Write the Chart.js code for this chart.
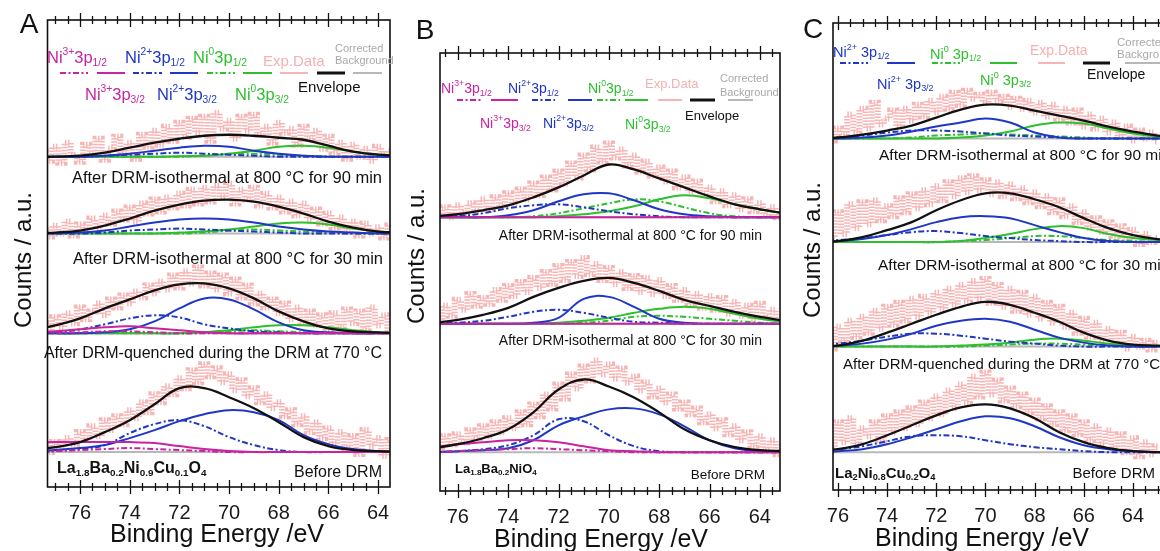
<!DOCTYPE html>
<html lang="en">
<head>
<meta charset="UTF-8" />
<title>Ni 3p XPS spectra</title>
<script src="https://cdn.jsdelivr.net/npm/chart.js"></script>
<style>
  body { margin: 0; background: #fff; width: 1160px; height: 551px; overflow: hidden; position: relative;
         font-family: 'Liberation Sans', Arial, sans-serif; color: #111; }
  canvas { position: absolute; top: 0; }
  .t { position: absolute; white-space: nowrap; line-height: 1; transform: translateY(-50%); }
  .t sup { font-size: 0.62em; vertical-align: 0.8em; line-height: 0; }
  .t sub { font-size: 0.62em; vertical-align: -0.3em; line-height: 0; }
  .r { transform: translate(-100%, -50%); }
  .c { transform: translate(-50%, -50%); }
  .v { transform: translate(-50%, -50%) rotate(-90deg); }
  .b { font-weight: bold; }
  .mg { color: #c8249f; } .bl { color: #1f37c4; } .gr { color: #2dbf2d; } .pk { color: #f6b0b0; } .gy { color: #a9a9a9; }
</style>
</head>
<body>
  <canvas id="panelA" width="400" height="551" style="left:0px"></canvas>
  <canvas id="panelB" width="400" height="551" style="left:400px"></canvas>
  <canvas id="panelC" width="400" height="551" style="left:790px"></canvas>

  <!-- panel letters / axis titles -->
  <div class="t c" style="left:29px;top:24px;font-size:28px">A</div>
  <div class="t c" style="left:425px;top:30px;font-size:28px">B</div>
  <div class="t c" style="left:813px;top:29px;font-size:28px">C</div>
  <div class="t v" style="left:23px;top:260px;font-size:24px">Counts / a.u.</div>
  <div class="t v" style="left:416px;top:256px;font-size:24px">Counts / a.u.</div>
  <div class="t v" style="left:812px;top:250px;font-size:24px">Counts / a.u.</div>
  <div class="t c" style="left:217px;top:533px;font-size:25px">Binding Energy /eV</div>
  <div class="t c" style="left:601px;top:538px;font-size:25px">Binding Energy /eV</div>
  <div class="t c" style="left:982px;top:537px;font-size:25px">Binding Energy /eV</div>

  <!-- legend A -->
  <div class="t mg" style="left:47px;top:57px;font-size:16.5px">Ni<sup>3+</sup>3p<sub>1/2</sub></div>
  <div class="t bl" style="left:125px;top:57px;font-size:16.5px">Ni<sup>2+</sup>3p<sub>1/2</sub></div>
  <div class="t gr" style="left:193px;top:57px;font-size:16.5px">Ni<sup>0</sup>3p<sub>1/2</sub></div>
  <div class="t pk" style="left:263px;top:60px;font-size:15px">Exp.Data</div>
  <div class="t gy" style="left:335px;top:48px;font-size:11px">Corrected</div>
  <div class="t gy" style="left:335px;top:60px;font-size:11px">Background</div>
  <div class="t mg" style="left:85px;top:94px;font-size:16.5px">Ni<sup>3+</sup>3p<sub>3/2</sub></div>
  <div class="t bl" style="left:157px;top:94px;font-size:16.5px">Ni<sup>2+</sup>3p<sub>3/2</sub></div>
  <div class="t gr" style="left:235px;top:94px;font-size:16.5px">Ni<sup>0</sup>3p<sub>3/2</sub></div>
  <div class="t" style="left:298px;top:86px;font-size:15px">Envelope</div>

  <!-- legend B -->
  <div class="t mg" style="left:441px;top:88px;font-size:14px">Ni<sup>3+</sup>3p<sub>1/2</sub></div>
  <div class="t bl" style="left:508px;top:88px;font-size:14px">Ni<sup>2+</sup>3p<sub>1/2</sub></div>
  <div class="t gr" style="left:588px;top:88px;font-size:14px">Ni<sup>0</sup>3p<sub>1/2</sub></div>
  <div class="t pk" style="left:645px;top:83px;font-size:13px">Exp.Data</div>
  <div class="t gy" style="left:720px;top:78px;font-size:11px">Corrected</div>
  <div class="t gy" style="left:720px;top:92px;font-size:11px">Background</div>
  <div class="t mg" style="left:480px;top:123px;font-size:14px">Ni<sup>3+</sup>3p<sub>3/2</sub></div>
  <div class="t bl" style="left:543px;top:123px;font-size:14px">Ni<sup>2+</sup>3p<sub>3/2</sub></div>
  <div class="t gr" style="left:625px;top:124px;font-size:14px">Ni<sup>0</sup>3p<sub>3/2</sub></div>
  <div class="t" style="left:685px;top:115px;font-size:13px">Envelope</div>

  <!-- legend C -->
  <div class="t bl" style="left:833px;top:52px;font-size:14.5px">Ni<sup>2+</sup> 3p<sub>1/2</sub></div>
  <div class="t gr" style="left:930px;top:54px;font-size:14.5px">Ni<sup>0</sup> 3p<sub>1/2</sub></div>
  <div class="t pk" style="left:1030px;top:50px;font-size:14px">Exp.Data</div>
  <div class="t gy" style="left:1117px;top:43px;font-size:11.5px">Corrected</div>
  <div class="t gy" style="left:1117px;top:55px;font-size:11.5px">Background</div>
  <div class="t bl" style="left:877px;top:84px;font-size:14.5px">Ni<sup>2+</sup> 3p<sub>3/2</sub></div>
  <div class="t gr" style="left:980px;top:80px;font-size:14.5px">Ni<sup>0</sup> 3p<sub>3/2</sub></div>
  <div class="t" style="left:1087px;top:74px;font-size:14px">Envelope</div>

  <!-- spectrum labels A -->
  <div class="t r" style="left:382px;top:177px;font-size:16.5px">After DRM-isothermal at 800 °C for 90 min</div>
  <div class="t r" style="left:383px;top:258px;font-size:16.5px">After DRM-isothermal at 800 °C for 30 min</div>
  <div class="t r" style="left:382px;top:353px;font-size:16px">After DRM-quenched during the DRM at 770 °C</div>
  <div class="t b" style="left:57px;top:468px;font-size:16px">La<sub>1.8</sub>Ba<sub>0.2</sub>Ni<sub>0.9</sub>Cu<sub>0.1</sub>O<sub>4</sub></div>
  <div class="t r" style="left:382px;top:472px;font-size:16px">Before DRM</div>

  <!-- spectrum labels B -->
  <div class="t r" style="left:762px;top:235px;font-size:14px">After DRM-isothermal at 800 °C for 90 min</div>
  <div class="t r" style="left:762px;top:340px;font-size:14px">After DRM-isothermal at 800 °C for 30 min</div>
  <div class="t b" style="left:455px;top:468px;font-size:13px">La<sub>1.8</sub>Ba<sub>0.2</sub>NiO<sub>4</sub></div>
  <div class="t r" style="left:765px;top:475px;font-size:13.5px">Before DRM</div>

  <!-- spectrum labels C -->
  <div class="t" style="left:879px;top:155px;font-size:15.5px">After DRM-isothermal at 800 °C for 90 min</div>
  <div class="t" style="left:878px;top:265px;font-size:15.5px">After DRM-isothermal at 800 °C for 30 min</div>
  <div class="t" style="left:843px;top:363px;font-size:15px">After DRM-quenched during the DRM at 770 °C</div>
  <div class="t b" style="left:835px;top:472px;font-size:15px">La<sub>2</sub>Ni<sub>0.8</sub>Cu<sub>0.2</sub>O<sub>4</sub></div>
  <div class="t r" style="left:1155px;top:472px;font-size:15px">Before DRM</div>

  <script>
    // binding energies (eV)
    const CURVE_E = [78, 77, 76, 75, 74, 73, 72, 71, 70, 69, 68, 67, 66, 65, 64, 63, 62];
    const EXP_E = [77.5, 77.25, 77, 76.75, 76.5, 76.25, 76, 75.75, 75.5, 75.25, 75, 74.75, 74.5, 74.25, 74,
      73.75, 73.5, 73.25, 73, 72.75, 72.5, 72.25, 72, 71.75, 71.5, 71.25, 71, 70.75, 70.5, 70.25, 70,
      69.75, 69.5, 69.25, 69, 68.75, 68.5, 68.25, 68, 67.75, 67.5, 67.25, 67, 66.75, 66.5, 66.25, 66,
      65.75, 65.5, 65.25, 65, 64.75, 64.5, 64.25, 64, 63.75, 63.5, 63.25, 63];
    const TICK_LABELS = [76, 74, 72, 70, 68, 66, 64];
    const FLAT = [0, 0, 0, 0, 0, 0, 0, 0, 0, 0, 0, 0, 0, 0, 0, 0, 0];

    // vertical offsets of each spectrum (a.u., top spectrum first)
    const OFFSET_A = [331, 254, 154, 35];
    const OFFSET_B = [275, 168, 39];
    const OFFSET_C = [353, 249, 144, 38];

    // ---- panel A ----
    const A1_ENV = [0, 0, 1, 4, 9, 14, 18, 21, 22, 21, 19, 17, 11, 5, 2, 1, 0];
    const A1_BLUE = [0, 0, 0, 1, 3, 6, 9, 11, 10, 6, 3, 1, 0, 0, 0, 0, 0];
    const A1_BLUE_DD = [0, 0, 0, 1, 2, 3, 4, 3, 2, 1, 0, 0, 0, 0, 0, 0, 0];
    const A1_GREEN = [0, 0, 0, 0, 0, 0, 0.5, 1, 3, 6, 10, 11, 9, 5, 2, 1, 0];
    const A1_GREEN_DD = [0, 0, 0, 0, 0, 0, 0, 1, 3, 3, 2, 1, 0, 0, 0, 0, 0];
    const A1_EXP = [5, -4, 10, -6, 14, 2, -5, 12, 3, 18, -3, 8, 20, 4, 14, -2, 22, 10, 26, 12, 30, 16, 34, 20, 38, 24, 40, 16, 44, 28,
      36, 18, 40, 26, 42, 22, 30, 14, 34, 24, 28, 12, 30, 18, 26, 8, 20, 4, 14, -2, 12, 0, 8, -4, 10, 2, 6, -3, 8];

    const A2_ENV = [0, 1, 3, 8, 15, 23, 29, 33, 34, 32, 27, 20, 12, 6, 2, 1, 0];
    const A2_BLUE = [0, 0, 1, 3, 7, 11, 14, 15, 14, 11, 7, 4, 2, 1, 0, 0, 0];
    const A2_BLUE_DD = [0, 0, 0, 1, 3, 4, 5, 4, 3, 2, 1, 0, 0, 0, 0, 0, 0];
    const A2_GREEN = [0, 0, 0, 0, 0, 0, 1, 2, 4, 7, 10, 11, 9, 5, 2, 1, 0];
    const A2_GREEN_DD = [0, 0, 0, 0, 0, 0, 0, 1, 3, 4, 3, 2, 1, 0, 0, 0, 0];
    const A2_EXP = [3, -3, 8, 0, 12, -2, 9, 4, 15, 6, 18, 10, 22, 14, 26, 12, 30, 20, 34, 22, 36, 26, 40, 28, 44, 30, 46, 32, 48, 36,
      50, 30, 44, 34, 46, 28, 40, 26, 36, 22, 32, 18, 30, 14, 24, 10, 20, 6, 16, 2, 12, -2, 10, 0, 6, -4, 8, 0, 4];

    const A3_ENV = [3, 8, 15, 25, 34, 43, 49, 50, 45, 35, 22, 12, 5, 2, 1, 0, 0];
    const A3_BLUE = [0, 0, 0, 1, 4, 12, 25, 35, 34, 24, 11, 3, 1, 0, 0, 0, 0];
    const A3_BLUE_DD = [0, 1, 4, 9, 15, 18, 16, 9, 5, 2, 1, 0, 0, 0, 0, 0, 0];
    const A3_MAG = [1, 2, 4, 6, 7, 5, 3, 1, 0, 0, 0, 0, 0, 0, 0, 0, 0];
    const A3_MAG_DD = [0, 0, 1, 2, 2, 1, 0, 0, 0, 0, 0, 0, 0, 0, 0, 0, 0];
    const A3_GREEN = [0, 0, 0, 0, 0, 0, 0, 1, 3, 6, 8, 8, 6, 3, 1, 0, 0];
    const A3_GREEN_DD = [0, 0, 0, 0, 0, 0, 0, 1, 2, 3, 2, 1, 0, 0, 0, 0, 0];
    const A3_EXP = [10, 2, 16, 6, 20, 10, 26, 14, 22, 30, 18, 34, 26, 38, 30, 42, 36, 48, 40, 52, 44, 58, 46, 62, 50, 66, 48, 60, 44, 58,
      40, 54, 36, 48, 30, 40, 26, 34, 20, 30, 14, 26, 10, 22, 8, 18, 4, 20, 6, 24, 10, 22, 4, 26, 8, 18, 2, 14, 6];

    const A4_ENV = [2, 5, 10, 20, 32, 48, 64, 64, 55, 44, 30, 15, 6, 2, 1, 0, 0];
    const A4_BLUE = [1, 2, 4, 7, 14, 22, 31, 38, 42, 40, 32, 17, 8, 3, 1, 0, 0];
    const A4_BLUE_DD = [0, 1, 3, 7, 19, 28, 32, 26, 15, 7, 2, 0, 0, 0, 0, 0, 0];
    const A4_MAG = [9, 10, 10, 10, 10, 9, 6, 3, 1, 0, 0, 0, 0, 0, 0, 0, 0];
    const A4_MAG_DD = [0, 1, 2, 3, 4, 3, 2, 1, 0, 0, 0, 0, 0, 0, 0, 0, 0];
    const A4_EXP = [6, 0, 10, 4, 14, 8, 20, 12, 26, 16, 32, 22, 36, 28, 42, 34, 50, 40, 58, 50, 66, 58, 74, 64, 82, 70, 88, 76, 84, 70,
      78, 62, 72, 56, 64, 50, 58, 44, 50, 36, 42, 28, 36, 20, 30, 14, 24, 8, 20, 4, 16, -2, 22, 6, 14, -4, 12, 2, 8];

    // ---- panel B ----
    const B1_ENV = [0, 1, 3, 7, 12, 20, 30, 42, 53, 48, 39, 30, 21, 13, 8, 4, 2];
    const B1_BLUE = [0, 0, 0, 0, 2, 7, 16, 23, 24, 17, 8, 3, 1, 0, 0, 0, 0];
    const B1_BLUE_DD = [0, 0, 1, 4, 9, 12, 13, 10, 6, 3, 1, 0, 0, 0, 0, 0, 0];
    const B1_GREEN = [0, 0, 0, 0, 0, 0, 1, 3, 6, 11, 18, 22, 19, 13, 8, 4, 2];
    const B1_GREEN_DD = [0, 0, 0, 0, 0, 1, 4, 9, 14, 18, 16, 10, 4, 1, 0, 0, 0];
    const B1_EXP = [4, -2, 8, 2, 10, 0, 12, 4, 14, 6, 18, 8, 20, 12, 24, 14, 28, 18, 34, 22, 40, 28, 46, 34, 54, 40, 62, 48, 70, 56,
      74, 60, 68, 52, 62, 46, 56, 42, 50, 36, 46, 30, 40, 26, 36, 22, 30, 16, 26, 12, 22, 8, 18, 6, 14, 2, 10, 0, 6];

    const B2_ENV = [0, 1, 4, 9, 16, 27, 36, 43, 46, 41, 33, 24, 18, 12, 7, 3, 1];
    const B2_BLUE = [0, 0, 0, 0, 0, 1, 6, 25, 27, 17, 5, 1, 0, 0, 0, 0, 0];
    const B2_BLUE_DD = [0, 0, 1, 3, 7, 12, 14, 11, 6, 2, 1, 0, 0, 0, 0, 0, 0];
    const B2_GREEN = [0, 0, 0, 0, 0, 0, 1, 3, 6, 11, 15, 17, 15, 10, 5, 2, 1];
    const B2_GREEN_DD = [0, 0, 0, 0, 0, 0, 0, 1, 3, 7, 8, 7, 5, 3, 1, 0, 0];
    const B2_EXP = [6, 0, 12, 4, 18, 8, 24, 14, 30, 18, 26, 20, 34, 24, 38, 28, 42, 32, 46, 36, 52, 40, 58, 44, 62, 48, 66, 50, 60, 44,
      56, 40, 52, 36, 48, 32, 46, 30, 44, 28, 38, 24, 34, 20, 30, 16, 28, 14, 26, 10, 22, 8, 18, 4, 20, 6, 14, 2, 8];

    const B3_ENV = [2, 4, 8, 14, 23, 40, 63, 73, 66, 55, 40, 23, 12, 5, 2, 1, 0];
    const B3_BLUE = [0, 0, 1, 2, 4, 12, 27, 36, 43, 44, 38, 26, 12, 4, 1, 0, 0];
    const B3_BLUE_DD = [0, 0, 1, 3, 7, 17, 33, 31, 17, 6, 1, 0, 0, 0, 0, 0, 0];
    const B3_MAG = [3, 5, 8, 10, 12, 12, 10, 6, 2, 1, 0, 0, 0, 0, 0, 0, 0];
    const B3_MAG_DD = [0, 0, 1, 2, 3, 4, 3, 2, 1, 0, 0, 0, 0, 0, 0, 0, 0];
    const B3_EXP = [8, 2, 12, 4, 16, 8, 18, 10, 22, 14, 26, 16, 30, 20, 34, 24, 40, 28, 48, 36, 58, 44, 68, 54, 78, 64, 86, 72, 92, 78,
      88, 74, 84, 70, 76, 62, 70, 56, 64, 50, 58, 44, 50, 38, 44, 30, 38, 24, 32, 18, 26, 12, 20, 6, 16, 2, 12, -2, 6];

    // ---- panel C ----
    const C1_ENV = [0, 0, 1, 4, 8, 13, 21, 29, 34, 33, 28, 23, 18, 12, 7, 3, 1];
    const C1_BLUE = [0, 0, 0, 1, 3, 7, 12, 16, 20, 16, 6, 1, 0, 0, 0, 0, 0];
    const C1_BLUE_DD = [0, 0, 1, 3, 6, 8, 8, 7, 5, 3, 2, 1, 0, 0, 0, 0, 0];
    const C1_GREEN = [0, 0, 0, 0, 0, 0, 0, 1, 3, 7, 13, 16, 15, 10, 5, 2, 1];
    const C1_GREEN_DD = [0, 0, 0, 0, 0, 1, 3, 4, 5, 4, 3, 2, 1, 0, 0, 0, 0];
    const C1_EXP = [4, 0, 6, 2, 8, -2, 10, 4, 24, 6, 30, 10, 36, 14, 20, 28, 12, 30, 18, 34, 22, 38, 26, 42, 30, 46, 34, 48, 40, 44,
      36, 46, 38, 42, 32, 40, 30, 38, 26, 36, 22, 34, 20, 30, 16, 28, 12, 24, 10, 20, 6, 16, 2, 12, -2, 8, 0, 6, -3];

    const C2_ENV = [0, 0, 1, 5, 12, 20, 32, 42, 49, 49, 43, 35, 24, 14, 7, 3, 1];
    const C2_BLUE = [0, 0, 1, 3, 7, 13, 20, 25, 26, 24, 17, 10, 4, 1, 0, 0, 0];
    const C2_BLUE_DD = [0, 1, 2, 4, 7, 10, 11, 9, 6, 4, 2, 1, 0, 0, 0, 0, 0];
    const C2_GREEN = [0, 0, 0, 0, 0, 0, 0, 1, 4, 8, 13, 16, 14, 8, 4, 2, 1];
    const C2_GREEN_DD = [0, 0, 0, 0, 0, 0, 0, 1, 2, 4, 6, 6, 4, 2, 1, 0, 0];
    const C2_EXP = [6, 0, 10, 2, 14, 4, 30, 8, 38, 14, 40, 18, 42, 22, 36, 26, 44, 30, 48, 34, 52, 38, 56, 42, 60, 46, 64, 50, 66, 52,
      62, 48, 60, 46, 58, 44, 54, 40, 50, 36, 46, 30, 42, 26, 36, 20, 30, 14, 24, 10, 20, 6, 16, 2, 12, -2, 8, 0, 4];

    const C3_ENV = [0, 0, 1, 6, 14, 23, 32, 40, 45, 42, 34, 25, 14, 6, 2, 1, 0];
    const C3_BLUE = [0, 0, 1, 3, 7, 13, 21, 26, 28, 25, 17, 9, 4, 1, 0, 0, 0];
    const C3_BLUE_DD = [0, 1, 3, 6, 10, 13, 13, 11, 8, 5, 3, 1, 0, 0, 0, 0, 0];
    const C3_GREEN = [0, 0, 0, 0, 0, 0, 0, 1, 2, 4, 7, 8, 6, 3, 1, 0, 0];
    const C3_GREEN_DD = [0, 0, 0, 0, 0, 0, 0, 0, 1, 2, 3, 3, 2, 1, 0, 0, 0];
    const C3_EXP = [4, 0, 8, 2, 12, -2, 20, 6, 26, 10, 30, 14, 36, 18, 40, 22, 44, 26, 48, 30, 50, 34, 54, 38, 58, 42, 62, 46, 66, 48,
      68, 44, 62, 40, 58, 36, 54, 32, 50, 28, 44, 24, 40, 20, 34, 14, 28, 10, 24, 6, 18, 2, 14, -2, 10, 0, 6, -3, 4];

    const C4_ENV = [0, 1, 3, 8, 17, 27, 37, 45, 48, 44, 34, 20, 10, 4, 1, 0, 0];
    const C4_BLUE = [0, 0, 1, 3, 8, 15, 23, 31, 36, 34, 26, 15, 7, 3, 1, 0, 0];
    const C4_BLUE_DD = [1, 2, 3, 6, 11, 16, 17, 16, 12, 8, 5, 3, 1, 0, 0, 0, 0];
    const C4_EXP = [4, 0, 8, 2, 14, 4, 30, 10, 34, 8, 24, 16, 30, 12, 36, 20, 40, 24, 44, 28, 50, 34, 56, 38, 62, 44, 68, 50, 76, 56,
      80, 58, 72, 52, 64, 46, 58, 40, 52, 34, 46, 28, 40, 22, 36, 18, 30, 12, 26, 8, 22, 4, 18, 0, 14, -4, 10, -2, 6];

    // styles
    const FONT = "'Liberation Sans', Arial, sans-serif";
    const MAG = '#c8249f', BLUE = '#1f37c4', GREEN = '#2dbf2d', BLACK = '#111111', GRAY = '#b8b8b8';
    const PINK = 'rgba(246, 160, 160, 0.78)';
    const DD = [6, 2.5, 2, 2.5];

    // frame, crossing tick marks and legend line samples
    const framePlugin = {
      id: 'frame',
      afterDraw(chart, args, opts) {
        const { ctx, chartArea: a, scales: { x } } = chart;
        ctx.save();
        ctx.strokeStyle = '#111';
        ctx.lineWidth = 1.6;
        ctx.strokeRect(a.left, a.top, a.right - a.left, a.bottom - a.top);
        ctx.lineWidth = 1.3;
        for (let v = Math.ceil(Math.min(x.min, x.max) * 2) / 2; v <= Math.max(x.min, x.max); v += 0.5) {
          const px = Math.round(x.getPixelForValue(v)) + 0.5;
          const len = v % 2 === 0 ? 7 : 4;
          [a.top, a.bottom].forEach(y => {
            ctx.beginPath(); ctx.moveTo(px, y - len); ctx.lineTo(px, y + len); ctx.stroke();
          });
        }
        (opts.samples || []).forEach(s => {
          ctx.strokeStyle = s[3];
          ctx.lineWidth = s[5] || 2;
          ctx.setLineDash(s[4] || []);
          ctx.beginPath(); ctx.moveTo(s[0] - opts.dx, s[2]); ctx.lineTo(s[1] - opts.dx, s[2]); ctx.stroke();
        });
        ctx.restore();
      }
    };

    function legendSamples(y, xs, colors, dashes, widths) {
      return xs.map((r, i) => [r[0], r[1], y, colors[i], dashes[i], widths[i]]);
    }

    function buildPanel(id, p) {
      const datasets = [];
      p.spectra.forEach(s => {
        const add = (vals, color, dash, order, width) => {
          if (!vals) return;
          datasets.push({
            data: CURVE_E.map((e, i) => ({ x: e, y: s.off + vals[i] })),
            borderColor: color, borderDash: dash, borderWidth: width || 2, order,
            pointRadius: 0, tension: 0.4, fill: false
          });
        };
        datasets.push({
          data: EXP_E.map((e, i) => ({ x: e, y: s.off + s.exp[i] })),
          stepped: 'middle', borderColor: PINK, borderWidth: 6, borderDash: [1.5, 1.5],
          pointRadius: 0, order: 9
        });
        add(FLAT, GRAY, [], 8);
        add(s.greenDD, GREEN, DD, 7);
        add(s.green, GREEN, [], 6);
        add(s.blueDD, BLUE, DD, 5);
        add(s.blue, BLUE, [], 4);
        add(s.magDD, MAG, DD, 3);
        add(s.mag, MAG, [], 2);
        add(s.env, BLACK, [], 1, 2.3);
      });

      new Chart(document.getElementById(id), {
        type: 'line',
        data: { datasets },
        options: {
          responsive: false,
          animation: false,
          devicePixelRatio: 1,
          events: [],
          layout: { padding: p.pad },
          plugins: {
            legend: { display: false },
            tooltip: { enabled: false },
            frame: { samples: p.samples, dx: p.dx }
          },
          scales: {
            x: {
              type: 'linear', reverse: true, min: p.xmin, max: p.xmax,
              grid: { display: false }, border: { display: false },
              ticks: {
                stepSize: 0.5, includeBounds: false, autoSkip: false, maxRotation: 0, padding: 6,
                color: '#1a1a1a', font: { size: 20, family: FONT },
                callback: v => TICK_LABELS.includes(v) ? String(v) : ''
              }
            },
            y: { display: false, min: 0, max: p.h }
          }
        },
        plugins: [framePlugin]
      });
    }

    const COLORS_FULL = [MAG, MAG, BLUE, BLUE, GREEN, GREEN, PINK, BLACK, GRAY];
    const DASH_FULL = [DD, [], DD, [], DD, [], [], [], []];
    const WIDTH_FULL = [2, 2, 2, 2, 2, 2, 2, 3, 2];

    buildPanel('panelA', {
      xmin: 63.52, xmax: 77.31, h: 468, dx: 0,
      pad: { left: 47.5, right: 10, top: 20, bottom: 20 },
      samples: legendSamples(73, [[60, 88], [97, 125], [133, 162], [170, 198], [207, 235], [243, 272], [280, 308], [317, 345], [353, 382]],
        COLORS_FULL, DASH_FULL, WIDTH_FULL),
      spectra: [
        { off: OFFSET_A[0], env: A1_ENV, blue: A1_BLUE, blueDD: A1_BLUE_DD, green: A1_GREEN, greenDD: A1_GREEN_DD, exp: A1_EXP },
        { off: OFFSET_A[1], env: A2_ENV, blue: A2_BLUE, blueDD: A2_BLUE_DD, green: A2_GREEN, greenDD: A2_GREEN_DD, exp: A2_EXP },
        { off: OFFSET_A[2], env: A3_ENV, blue: A3_BLUE, blueDD: A3_BLUE_DD, green: A3_GREEN, greenDD: A3_GREEN_DD, mag: A3_MAG, magDD: A3_MAG_DD, exp: A3_EXP },
        { off: OFFSET_A[3], env: A4_ENV, blue: A4_BLUE, blueDD: A4_BLUE_DD, mag: A4_MAG, magDD: A4_MAG_DD, exp: A4_EXP }
      ]
    });

    buildPanel('panelB', {
      xmin: 63.2, xmax: 76.71, h: 440, dx: 400,
      pad: { left: 40, right: 20, top: 53, bottom: 16 },
      samples: legendSamples(100, [[457, 482], [491, 518], [532, 555], [568, 592], [597, 620], [625, 648], [658, 682], [690, 715], [728, 753]],
        COLORS_FULL, DASH_FULL, WIDTH_FULL),
      spectra: [
        { off: OFFSET_B[0], env: B1_ENV, blue: B1_BLUE, blueDD: B1_BLUE_DD, green: B1_GREEN, greenDD: B1_GREEN_DD, mag: FLAT, exp: B1_EXP },
        { off: OFFSET_B[1], env: B2_ENV, blue: B2_BLUE, blueDD: B2_BLUE_DD, green: B2_GREEN, greenDD: B2_GREEN_DD, mag: FLAT, exp: B2_EXP },
        { off: OFFSET_B[2], env: B3_ENV, blue: B3_BLUE, blueDD: B3_BLUE_DD, mag: B3_MAG, magDD: B3_MAG_DD, exp: B3_EXP }
      ]
    });

    buildPanel('panelC', {
      xmin: 62.29, xmax: 76.2, h: 469, dx: 790,
      pad: { left: 43, right: 15, top: 23, bottom: 17 },
      samples: legendSamples(63, [[840, 868], [887, 915], [932, 960], [990, 1017], [1038, 1065], [1083, 1110], [1125, 1160]],
        COLORS_FULL.slice(2), DASH_FULL.slice(2), WIDTH_FULL.slice(2)),
      spectra: [
        { off: OFFSET_C[0], env: C1_ENV, blue: C1_BLUE, blueDD: C1_BLUE_DD, green: C1_GREEN, greenDD: C1_GREEN_DD, exp: C1_EXP },
        { off: OFFSET_C[1], env: C2_ENV, blue: C2_BLUE, blueDD: C2_BLUE_DD, green: C2_GREEN, greenDD: C2_GREEN_DD, exp: C2_EXP },
        { off: OFFSET_C[2], env: C3_ENV, blue: C3_BLUE, blueDD: C3_BLUE_DD, green: C3_GREEN, greenDD: C3_GREEN_DD, exp: C3_EXP },
        { off: OFFSET_C[3], env: C4_ENV, blue: C4_BLUE, blueDD: C4_BLUE_DD, exp: C4_EXP }
      ]
    });
  </script>
</body>
</html>
